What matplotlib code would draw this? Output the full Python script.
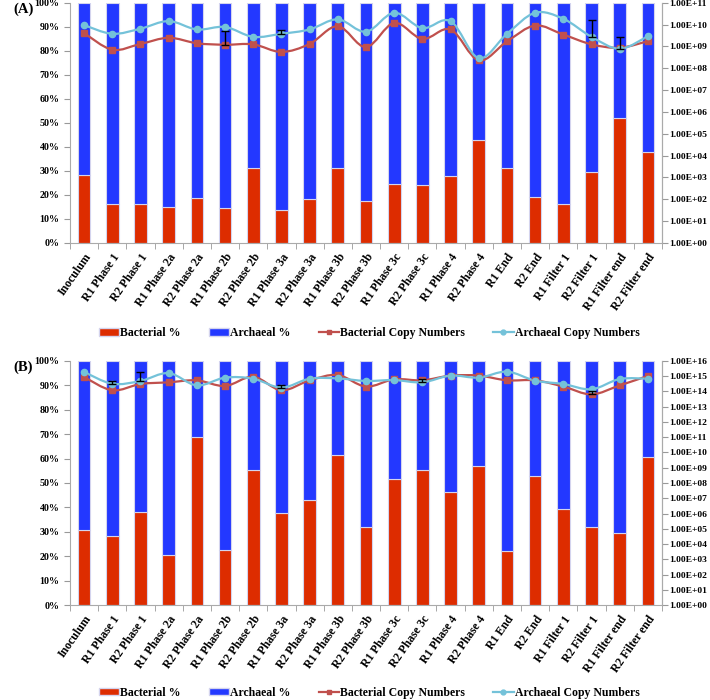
import numpy as np
import matplotlib
matplotlib.use('Agg')
import matplotlib.pyplot as plt
from matplotlib.path import Path
from matplotlib.patches import PathPatch, Patch
from matplotlib.lines import Line2D
from matplotlib.ticker import FixedLocator, FuncFormatter, MultipleLocator

plt.rcParams['font.family'] = ['Liberation Serif', 'DejaVu Serif']
plt.rcParams['font.weight'] = 'bold'

samples = ['Inoculum', 'R1 Phase 1', 'R2 Phase 1', 'R1 Phase 2a', 'R2 Phase 2a',
           'R1 Phase 2b', 'R2 Phase 2b', 'R1 Phase 3a', 'R2 Phase 3a', 'R1 Phase 3b',
           'R2 Phase 3b', 'R1 Phase 3c', 'R2 Phase 3c', 'R1 Phase 4', 'R2 Phase 4',
           'R1 End', 'R2 End', 'R1 Filter 1', 'R2 Filter 1', 'R1 Filter end', 'R2 Filter end']

# panel A
bact_pct_a = [28.2, 16.0, 16.0, 15.1, 18.6, 14.4, 31.0, 13.8, 18.3, 31.0, 17.4,
              24.7, 24.3, 27.8, 42.8, 31.0, 19.3, 16.0, 29.6, 51.9, 38.0]
bact_copies_a = [4.1e9, 7.1e8, 1.3e9, 2.5e9, 1.4e9, 1.2e9, 1.25e9, 5.6e8, 1.3e9, 8.5e9, 9.3e8,
                 1.2e10, 2.2e9, 6.0e9, 2.3e8, 1.7e9, 9.1e9, 3.5e9, 1.25e9, 8.7e8, 1.75e9]
arch_copies_a = [9.5e9, 3.8e9, 6.5e9, 1.45e10, 6.0e9, 7.8e9, 2.75e9, 3.8e9, 6.0e9, 1.75e10, 4.7e9,
                 3.5e10, 6.9e9, 1.45e10, 2.9e8, 3.8e9, 3.5e10, 1.85e10, 2.75e9, 7.8e8, 2.95e9]
# upper error ends (0 = none)
bact_err_a = [0, 0, 0, 0, 0, 3.8e9, 0, 0, 0, 0, 0, 0, 0, 0, 0, 0, 0, 0, 0, 0, 0]
arch_err_a = [0, 0, 0, 0, 0, 0, 0, 1.7e9, 0, 0, 0, 0, 0, 0, 0, 0, 0, 0, 1.3e10, 1.9e9, 0]

# panel B
bact_pct_b = [30.6, 28.4, 38.1, 20.5, 68.9, 22.7, 55.5, 37.7, 43.0, 61.5, 31.8,
              51.5, 55.3, 46.4, 57.1, 22.3, 53.0, 39.2, 32.0, 29.5, 60.8]
bact_copies_b = [8.9e14, 1.2e14, 3.1e14, 4.0e14, 5.4e14, 2.3e14, 9.3e14, 1.2e14, 5.4e14, 1.2e15, 2.1e14,
                 6.3e14, 5.4e14, 1.1e15, 1.1e15, 5.4e14, 5.4e14, 2.1e14, 6.5e13, 2.5e14, 1.05e15]
arch_copies_b = [1.9e15, 3.2e14, 4.9e14, 1.6e15, 2.5e14, 8.1e14, 6.9e14, 1.8e14, 6.9e14, 7.2e14, 4.9e14,
                 5.6e14, 4.0e14, 1.1e15, 8.1e14, 2.0e15, 5.1e14, 3.1e14, 1.4e14, 6.6e14, 6.9e14]
bact_err_b = [0, 0, 0, 0, 0, 0, 0, 0, 0, 0, 0, 0, 0, 0, 0, 0, 0, 0, 3.5e13, 0, 0]
arch_err_b = [0, 2.0e14, 1.3e15, 0, 0, 0, 0, 1.0e14, 0, 0, 0, 0, 2.6e14, 0, 0, 0, 0, 0, 0, 0, 0]

RED = '#DD2C00'
BLUE = '#2338FF'
LRED = '#C0504D'
LCYAN = '#74C2D9'


def smooth_line(ax, x, y, color):
    # Excel-like smoothed line: bezier through the points in (x, log y) space
    lx = np.asarray(x, float)
    ly = np.log10(y)
    verts = [(lx[0], ly[0])]
    codes = [Path.MOVETO]
    n = len(lx)
    for i in range(n - 1):
        p0 = np.array([lx[max(i - 1, 0)], ly[max(i - 1, 0)]])
        p1 = np.array([lx[i], ly[i]])
        p2 = np.array([lx[i + 1], ly[i + 1]])
        p3 = np.array([lx[min(i + 2, n - 1)], ly[min(i + 2, n - 1)]])
        c1 = p1 + (p2 - p0) / 6.0
        c2 = p2 - (p3 - p1) / 6.0
        verts += [tuple(c1), tuple(c2), tuple(p2)]
        codes += [Path.CURVE4] * 3
    verts = [(vx, 10 ** vy) for vx, vy in verts]
    ax.add_patch(PathPatch(Path(verts, codes), fill=False, edgecolor=color, lw=1.6, zorder=3))


def panel(ax, pct, bact, arch, berr, aerr, top_exp, letter):
    x = np.arange(len(samples))
    pct = np.array(pct)
    ax.bar(x, pct, width=0.45, color=RED, edgecolor='#d4d4ee', linewidth=0.8, zorder=2)
    ax.bar(x, 100 - pct, bottom=pct, width=0.45, color=BLUE, edgecolor='#d4d4ee',
           linewidth=0.8, zorder=2)
    ax.set_xlim(-0.5, len(samples) - 0.5)
    ax.set_ylim(0, 100)
    ax.yaxis.set_major_locator(MultipleLocator(10))
    ax.yaxis.set_major_formatter(FuncFormatter(lambda v, p: '%d%%' % v))
    ax.set_xticks(x)
    ax.set_xticklabels(samples, rotation=55, ha='right', rotation_mode='anchor', fontsize=8.5)
    ax.xaxis.set_minor_locator(FixedLocator(np.arange(-0.5, len(samples), 1.0)))
    ax.tick_params(axis='x', which='major', length=0, pad=6)
    ax.tick_params(axis='x', which='minor', length=4, color='#999999', direction='out')
    ax.tick_params(axis='y', labelsize=7.2, length=4, color='#999999', direction='out')
    ax.spines['top'].set_visible(False)
    for s in ['left', 'bottom', 'right']:
        ax.spines[s].set_color('#aaaaaa')

    ax2 = ax.twinx()
    ax2.set_yscale('log')
    ax2.set_ylim(1, 10.0 ** top_exp)
    ax2.yaxis.set_major_locator(FixedLocator([10.0 ** e for e in range(top_exp + 1)]))
    ax2.yaxis.set_minor_locator(FixedLocator([]))
    ax2.yaxis.set_major_formatter(FuncFormatter(lambda v, p: '1.00E+%02d' % round(np.log10(v))))
    ax2.tick_params(axis='y', labelsize=6.8, length=4, pad=1.5, color='#999999', direction='out')
    for s in ['top', 'left', 'bottom']:
        ax2.spines[s].set_visible(False)
    ax2.spines['right'].set_color('#aaaaaa')

    smooth_line(ax2, x, bact, LRED)
    smooth_line(ax2, x, arch, LCYAN)
    ax2.plot(x, bact, ls='none', marker='s', ms=4.5, color=LRED, zorder=4)
    ax2.plot(x, arch, ls='none', marker='o', ms=4.5, color=LCYAN, zorder=4)
    for vals, errs in [(bact, berr), (arch, aerr)]:
        for i, (v, e) in enumerate(zip(vals, errs)):
            if e:
                ax2.errorbar([i], [v], yerr=[[0], [e]], fmt='none',
                             ecolor='black', elinewidth=1, capsize=3, zorder=5)

    ax.text(-0.095, 1.0, letter, transform=ax.transAxes, fontsize=10.5,
            fontweight='bold', va='top', ha='left')
    return ax2


fig = plt.figure(figsize=(7.1, 7.0), dpi=100)
ax_a = fig.add_axes([0.0986, 0.653, 0.8338, 0.343])
ax_b = fig.add_axes([0.0986, 0.1357, 0.8338, 0.3486])

panel(ax_a, bact_pct_a, bact_copies_a, arch_copies_a, bact_err_a, arch_err_a, 11, '(A)')
panel(ax_b, bact_pct_b, bact_copies_b, arch_copies_b, bact_err_b, arch_err_b, 16, '(B)')

handles = [Patch(facecolor=RED, edgecolor='#d4d4ee'),
           Patch(facecolor=BLUE, edgecolor='#d4d4ee'),
           Line2D([], [], color=LRED, marker='s', ms=3.5, lw=1.6),
           Line2D([], [], color=LCYAN, marker='o', ms=3.5, lw=1.6)]
labels = ['Bacterial %', 'Archaeal %', 'Bacterial Copy Numbers', 'Archaeal Copy Numbers']
for yy in [0.524, 0.01]:
    fig.legend(handles, labels, loc='center', bbox_to_anchor=(0.52, yy), ncol=4, frameon=False,
               fontsize=8.5, handlelength=1.7, handleheight=0.55, handletextpad=0.1,
               columnspacing=2.4)

fig.savefig('out.png', dpi=100)
